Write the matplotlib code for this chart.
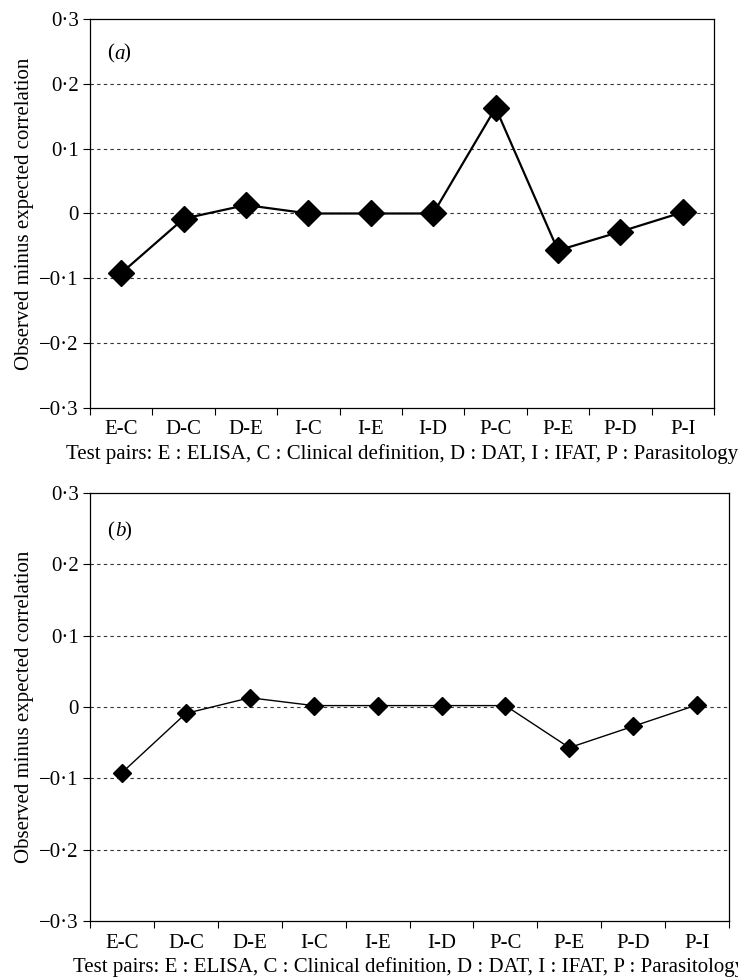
import matplotlib
matplotlib.use("Agg")
import matplotlib.pyplot as plt
from matplotlib.ticker import FixedLocator, FuncFormatter

plt.rcParams['font.family'] = ['Liberation Serif', 'DejaVu Serif']

pairs = ['E-C', 'D-C', 'D-E', 'I-C', 'I-E', 'I-D', 'P-C', 'P-E', 'P-D', 'P-I']
diff_a = [-0.092, -0.008, 0.013, 0.0, 0.0, 0.0, 0.163, -0.057, -0.028, 0.002]
diff_b = [-0.092, -0.009, 0.013, 0.002, 0.002, 0.002, 0.002, -0.057, -0.027, 0.003]
yticks = [-0.3, -0.2, -0.1, 0, 0.1, 0.2, 0.3]
xlabel = 'Test pairs: E : ELISA, C : Clinical definition, D : DAT, I : IFAT, P : Parasitology'
ylabel = 'Observed minus expected correlation'


def fmt(v, _):
    if abs(v) < 1e-9:
        return '0'
    s = f'{abs(v):.1f}'.replace('.', '\u00b7')
    return ('\u2212' if v < 0 else '') + s


fig = plt.figure(figsize=(7.38, 9.8), dpi=100)
ax1 = fig.add_axes([0.122, 0.5837, 0.8455, 0.3969])
ax2 = fig.add_axes([0.122, 0.0602, 0.8659, 0.4367])

panels = [(ax1, diff_a, 'a', 13, 1.6), (ax2, diff_b, 'b', 9, 1.0)]
for ax, vals, letter, msize, lw in panels:
    x = list(range(len(pairs)))
    ax.plot(x, vals, color='black', lw=lw, marker='D', markersize=msize,
            markerfacecolor='black', markeredgecolor='black', zorder=3)
    ax.set_xlim(-0.5, len(pairs) - 0.5)
    ax.set_ylim(-0.3, 0.3)
    ax.yaxis.set_major_locator(FixedLocator(yticks))
    ax.yaxis.set_major_formatter(FuncFormatter(fmt))
    ax.set_xticks(x)
    ax.set_xticklabels(pairs)
    ax.set_xticks([i - 0.5 for i in range(len(pairs) + 1)], minor=True)
    ax.tick_params(axis='x', which='major', length=0, pad=9, labelsize=15)
    ax.tick_params(axis='x', which='minor', length=5, width=0.8, direction='out')
    ax.tick_params(axis='y', length=5, width=0.8, direction='out', labelsize=15, pad=3)
    for yv in [-0.2, -0.1, 0, 0.1, 0.2]:
        ax.axhline(yv, color='#333333', lw=0.8, ls=(0, (3, 3)), zorder=1)
    for sp in ax.spines.values():
        sp.set_linewidth(0.9)
    ax.set_ylabel(ylabel, fontsize=15, labelpad=4)
    ax.set_xlabel(xlabel, fontsize=15, labelpad=3)
    ax.text(0.027, 0.91, '(', transform=ax.transAxes, fontsize=15, ha='left', va='center')
    ax.text(0.039, 0.91, letter, transform=ax.transAxes, fontsize=15, ha='left',
            va='center', style='italic')
    ax.text(0.053, 0.91, ')', transform=ax.transAxes, fontsize=15, ha='left', va='center')

fig.savefig('out.png', dpi=100)
